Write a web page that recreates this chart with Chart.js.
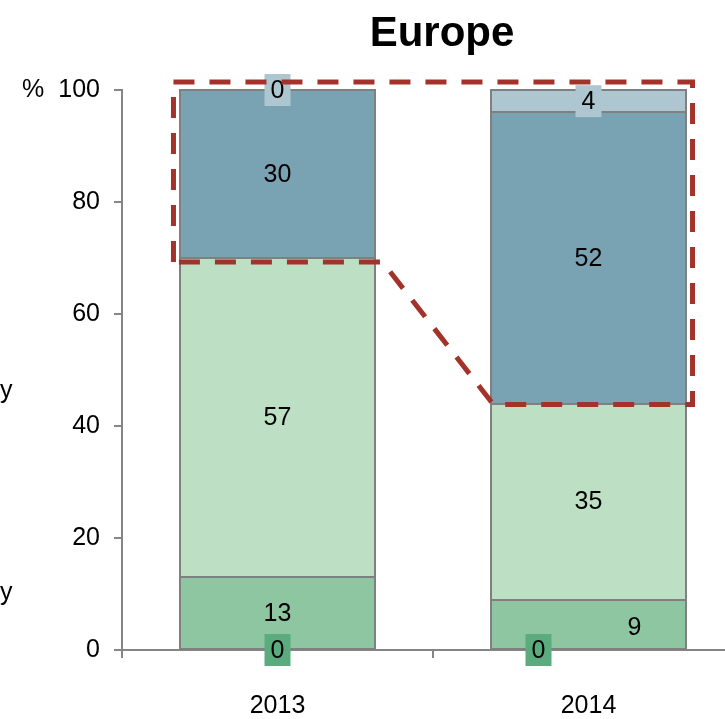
<!DOCTYPE html>
<html>
<head>
<meta charset="utf-8">
<title>Europe</title>
<script src="https://cdn.jsdelivr.net/npm/chart.js@4.4.0/dist/chart.umd.min.js"></script>
<style>
  html, body { margin: 0; padding: 0; overflow: hidden; background: #fff; }
  #wrap { position: relative; width: 744px; height: 719px; }
</style>
</head>
<body>
<div id="wrap"><canvas id="europeChart"></canvas></div>
<script>
// Share by year, stacked from the bottom up
const years = ["2013", "2014"];
const darkGreen = [0, 0];
const midGreen = [13, 9];
const lightGreen = [57, 35];
const steelBlue = [30, 52];
const paleBlue = [0, 4];
const yTickLabels = [0, 20, 40, 60, 80, 100];
const sideLabels = ["y", "y"];

const colors = ["#5aab7e", "#8ec6a1", "#bddfc4", "#79a3b3", "#adc6cf"];
const FONT = "Arial, 'Liberation Sans', sans-serif";

// per-label nudges ("dataset-index": [dx, dy])
const labelShift = { "0-1": [-50, 0], "1-1": [46, 3] };

// gray outline per segment, stroked on the edges so neighbours share one line
const segmentEdges = {
  id: "segmentEdges",
  afterDatasetsDraw(chart) {
    const ctx = chart.ctx;
    ctx.save();
    ctx.strokeStyle = "#808080";
    ctx.lineWidth = 2;
    chart.data.datasets.forEach((ds, i) => {
      chart.getDatasetMeta(i).data.forEach((bar, j) => {
        if (ds.data[j] === 0) return;
        const l = Math.round(bar.x - bar.width / 2);
        const r = Math.round(bar.x + bar.width / 2);
        const t = Math.round(Math.min(bar.y, bar.base));
        const b = Math.round(Math.max(bar.y, bar.base));
        ctx.strokeRect(l, t, r - l, b - t);
      });
    });
    ctx.restore();
  }
};

const valueLabels = {
  id: "valueLabels",
  afterDatasetsDraw(chart) {
    const ctx = chart.ctx;
    ctx.save();
    ctx.font = "25px " + FONT;
    ctx.textAlign = "center";
    ctx.textBaseline = "middle";
    chart.data.datasets.forEach((ds, i) => {
      const meta = chart.getDatasetMeta(i);
      meta.data.forEach((bar, j) => {
        const v = ds.data[j];
        const shift = labelShift[i + "-" + j] || [0, 0];
        const x = bar.x + shift[0];
        const y = (bar.y + bar.base) / 2 + shift[1];
        const boxed = v === 0 || i === 4;
        if (boxed) {
          ctx.fillStyle = colors[i];
          ctx.fillRect(x - 13, y - 16, 26, 32);
        }
        ctx.fillStyle = "#000";
        ctx.fillText(String(v), x, y + 1);
      });
    });
    ctx.restore();
  }
};

// dashed outline around the blue share of both bars
const shareOutline = {
  id: "shareOutline",
  afterDatasetsDraw(chart) {
    const ctx = chart.ctx;
    const y = chart.scales.y;
    const b13 = chart.getDatasetMeta(3).data[0];
    const b14 = chart.getDatasetMeta(3).data[1];
    const top = y.getPixelForValue(100) - 8;
    const left = b13.x - b13.width / 2 - 7;
    const right = b14.x + b14.width / 2 + 7;
    const mid13 = b13.base + 4;
    const mid14 = b14.base + 1;
    const bendL = b13.x + b13.width / 2 + 8;
    const bendR = b14.x - b14.width / 2 + 2;
    ctx.save();
    ctx.strokeStyle = "#a3322a";
    ctx.lineWidth = 5;
    ctx.setLineDash([21, 15]);
    ctx.beginPath();
    ctx.moveTo(left, mid13);
    ctx.lineTo(left, top);
    ctx.lineTo(right, top);
    ctx.lineTo(right, mid14);
    ctx.lineTo(bendR, mid14);
    ctx.lineTo(bendL, mid13);
    ctx.closePath();
    ctx.stroke();
    ctx.restore();
  }
};

const extraText = {
  id: "extraText",
  afterDraw(chart) {
    const ctx = chart.ctx;
    const y = chart.scales.y;
    ctx.save();
    ctx.fillStyle = "#000";
    ctx.font = "bold 42px " + FONT;
    ctx.textAlign = "center";
    ctx.textBaseline = "alphabetic";
    ctx.fillText("Europe", 442, 46);
    ctx.font = "25px " + FONT;
    ctx.textAlign = "left";
    ctx.textBaseline = "middle";
    ctx.fillText("%", 22, y.getPixelForValue(100));
    ctx.textBaseline = "alphabetic";
    ctx.fillText(sideLabels[0], 0, 398);
    ctx.fillText(sideLabels[1], 0, 600);
    ctx.restore();
  }
};

const seriesData = [darkGreen, midGreen, lightGreen, steelBlue, paleBlue];

new Chart(document.getElementById("europeChart").getContext("2d"), {
  type: "bar",
  data: {
    labels: years,
    datasets: seriesData.map((d, i) => ({
      data: d,
      backgroundColor: colors[i],
      borderWidth: 0,
      categoryPercentage: 1,
      barPercentage: 0.624,
    })),
  },
  options: {
    responsive: true,
    maintainAspectRatio: false,
    animation: false,
    layout: { padding: { top: 90, left: 0, right: 0, bottom: 0 } },
    plugins: {
      legend: { display: false },
      title: { display: false },
      tooltip: { enabled: false },
    },
    scales: {
      x: {
        stacked: true,
        afterFit: (s) => { s.height = 69; },
        grid: {
          drawOnChartArea: false,
          drawTicks: true,
          tickLength: 8,
          color: "#858585",
          lineWidth: 2,
        },
        border: { color: "#858585", width: 2 },
        ticks: { color: "#000", font: { size: 25, family: FONT }, padding: 33 },
      },
      y: {
        stacked: true,
        min: 0,
        max: 100,
        afterFit: (s) => { s.width = 122; },
        afterBuildTicks: (s) => { s.ticks = yTickLabels.map((v) => ({ value: v })); },
        grid: {
          drawOnChartArea: false,
          drawTicks: true,
          tickLength: 8,
          color: "#858585",
          lineWidth: 2,
        },
        border: { color: "#858585", width: 2 },
        ticks: { color: "#000", font: { size: 25, family: FONT }, padding: 14 },
      },
    },
  },
  plugins: [segmentEdges, valueLabels, shareOutline, extraText],
});
</script>
</body>
</html>
